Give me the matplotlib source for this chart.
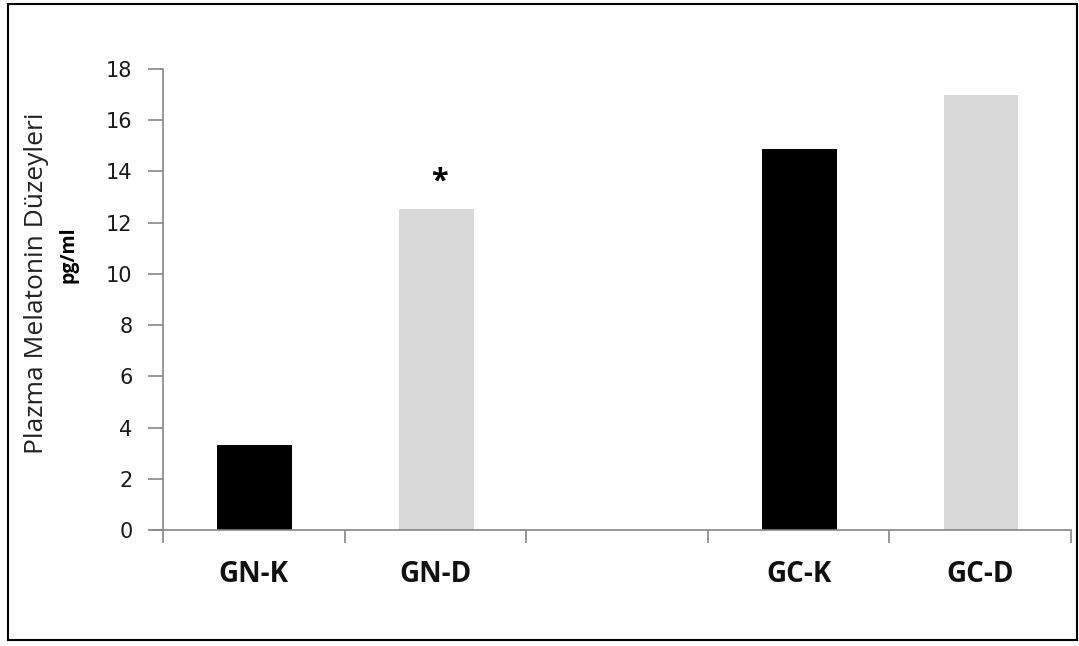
import matplotlib
matplotlib.use("Agg")
import matplotlib.pyplot as plt
from matplotlib.patches import Rectangle

categories = ["GN-K", "GN-D", "", "GC-K", "GC-D"]
values = [3.3, 12.52, None, 14.88, 17.0]
colors = ["#000000", "#d9d9d9", None, "#000000", "#d9d9d9"]
yticks = [0, 2, 4, 6, 8, 10, 12, 14, 16, 18]
star_index = 1
star_value = 13.6

W, H = 1079, 646
fig = plt.figure(figsize=(W/100, H/100), dpi=100)
ax = fig.add_axes([163/W, 1-530/H, (1071-163)/W, (530-69)/H])

for i, (v, c) in enumerate(zip(values, colors)):
    if v is not None:
        ax.bar(i + 0.005, v, width=0.41, color=c, zorder=2)

ax.text(star_index + 0.02, star_value, "*", ha="center", va="center",
        fontsize=22, fontweight="bold", family="Open Sans")

ax.set_xlim(-0.5, len(categories) - 0.5)
ax.set_ylim(0, 18)
ax.set_yticks(yticks)
ax.set_yticklabels([str(t) for t in yticks], family="DejaVu Sans", fontsize=15,
                   color="#1a1a1a")

ax.set_xticks([i - 0.5 for i in range(len(categories) + 1)])
ax.set_xticklabels([])
for i, c in enumerate(categories):
    ax.text(i, -1.72, c, ha="center", va="center", fontsize=20, fontweight="bold",
            family="Open Sans", color="#111111")

for s in ["top", "right"]:
    ax.spines[s].set_visible(False)
for s in ["left", "bottom"]:
    ax.spines[s].set_color("#868686")
    ax.spines[s].set_linewidth(1.2)
ax.tick_params(axis="y", direction="out", length=11, color="#868686", width=1.2, pad=11)
ax.tick_params(axis="x", direction="out", length=9, color="#868686", width=1.2)
ax.spines["bottom"].set_bounds(-0.56, len(categories) - 0.5)

fig.text(37/W, 1-283/H, "Plazma Melatonin Düzeyleri", rotation=90,
         ha="center", va="center", fontsize=19, family="Open Sans", color="#222222")
fig.text(69/W, 1-255/H, "pg/ml", rotation=90, ha="center", va="center",
         fontsize=14, fontweight="bold", family="Open Sans")

fig.patches.append(Rectangle((8/W, 1-640/H), (1077-8)/W, (640-4)/H,
                             transform=fig.transFigure, fill=False,
                             edgecolor="#000000", linewidth=1.5))

fig.savefig("out.png", dpi=100)
